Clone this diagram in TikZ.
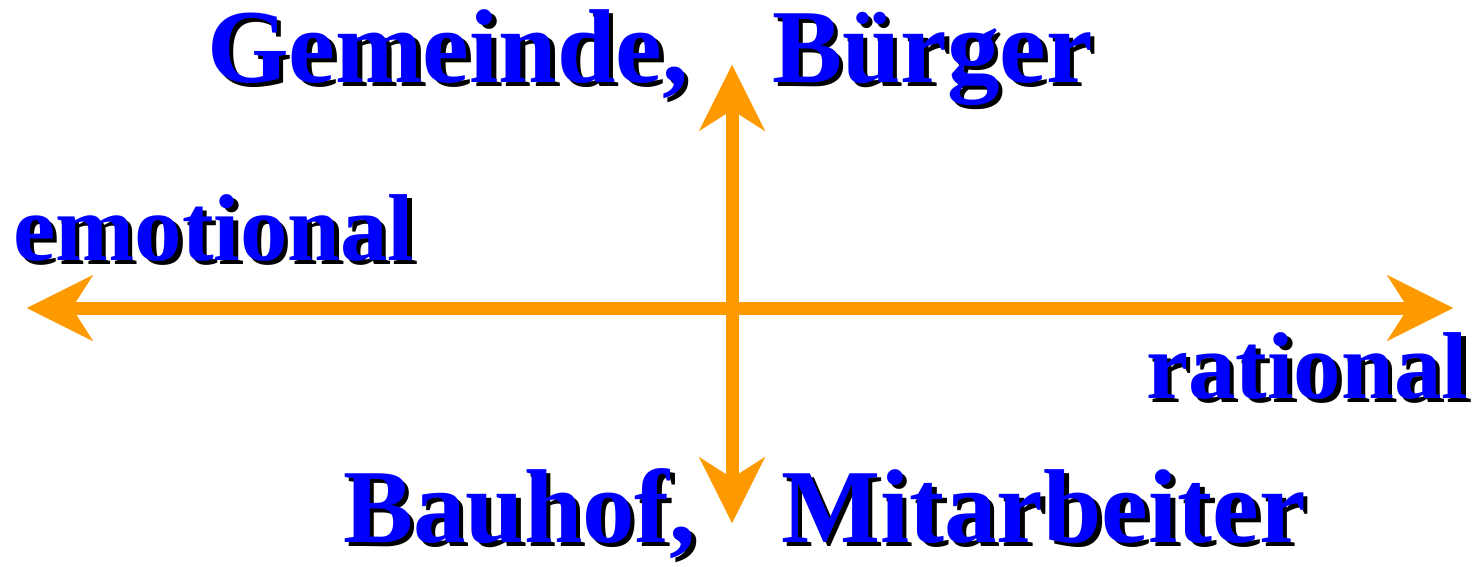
\documentclass[tikz,border=0pt]{standalone}
\usepackage{fontspec}
\setmainfont{Liberation Serif}
\usetikzlibrary{arrows.meta}
\definecolor{axisorange}{HTML}{FF9900}
\definecolor{labelblue}{HTML}{0000FF}
\newcommand\shtext[1]{\leavevmode\rlap{\kern4.5pt\raisebox{-4.5pt}{\color{black}#1}}{\color{labelblue}#1}}
\tikzset{
  big/.style={anchor=base west, inner sep=0pt, font=\bfseries\fontsize{105}{110}\selectfont},
  mid/.style={anchor=base west, inner sep=0pt, font=\bfseries\fontsize{95}{100}\selectfont},
  axis/.style={draw=axisorange, line width=13pt,
    -{Stealth[length=66pt,width=66pt,inset=21pt,line width=0.01pt,fill=axisorange]}},
  axis2/.style={draw=axisorange, line width=13pt,
    {Stealth[length=66pt,width=66pt,inset=21pt,line width=0.01pt,fill=axisorange]}-{Stealth[length=66pt,width=66pt,inset=21pt,line width=0.01pt,fill=axisorange]}}
}
\begin{document}
\begin{tikzpicture}[x=1pt,y=-1pt]
\useasboundingbox (0,0) rectangle (1477,566);
\coordinate (L) at (27,308);
\coordinate (R) at (1453,308);
\coordinate (T) at (732,65);
\coordinate (B) at (732,523);
\draw[axis2] (L) -- (R);
\draw[axis2] (T) -- (B);
\node[big] (gem) at (207,82) {\shtext{Gemeinde,}};
\node[big] (bue) at (772,82) {\shtext{Bürger}};
\node[mid] (emo) at (13,260) {\shtext{emotional}};
\node[mid] (rat) at (1146,398) {\shtext{rational}};
\node[big] (bau) at (343,542) {\shtext{Bauhof,}};
\node[big] (mit) at (781,542) {\shtext{Mitarbeiter}};
\end{tikzpicture}
\end{document}
